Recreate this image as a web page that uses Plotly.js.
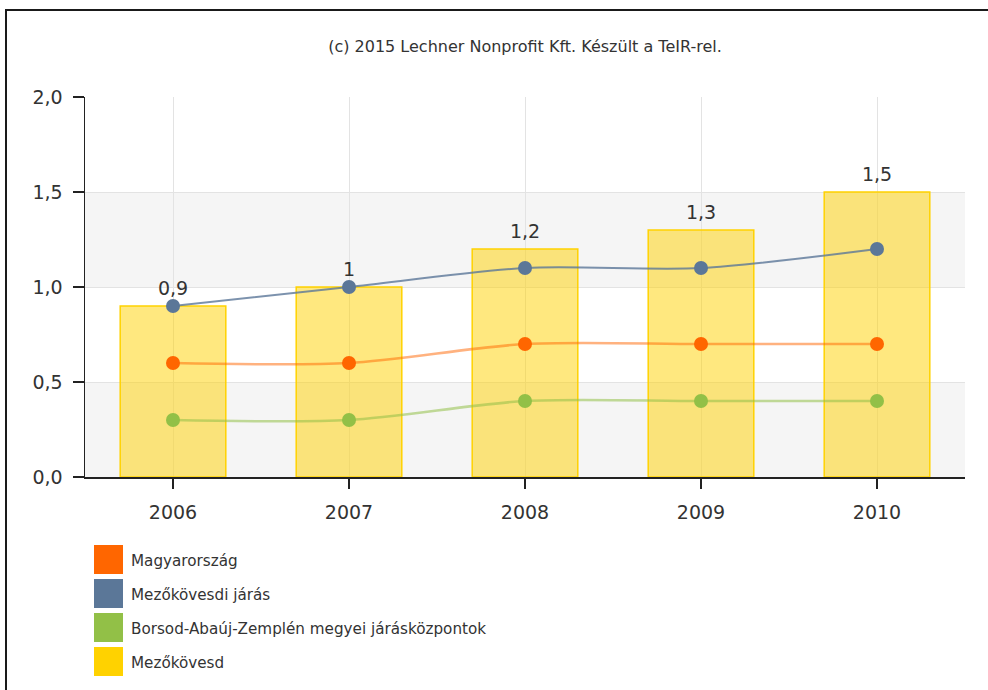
<!DOCTYPE html>
<html>
<head>
<meta charset="utf-8">
<script src="https://cdn.plot.ly/plotly-3.0.1.min.js"></script>
<style>
  html, body { margin: 0; padding: 0; background: #fff; }
  #wrap { position: relative; width: 988px; height: 690px; overflow: hidden; }
  #chart { position: absolute; left: 0; top: 0; width: 988px; height: 690px; }
  #frame { position: absolute; left: 5px; top: 9px; width: 990px; height: 700px;
           border-top: 2px solid #1a1a1a; border-left: 2px solid #1a1a1a; pointer-events: none; }
</style>
</head>
<body>
<div id="wrap">
  <div id="chart"></div>
  <div id="frame"></div>
</div>
<script>
// ---- data ----
const years = ['2006', '2007', '2008', '2009', '2010'];
const mezokovesd = [0.9, 1.0, 1.2, 1.3, 1.5];           // bars
const magyarorszag = [0.6, 0.6, 0.7, 0.7, 0.7];
const mezokovesdiJaras = [0.9, 1.0, 1.1, 1.1, 1.2];
const borsod = [0.3, 0.3, 0.4, 0.4, 0.4];
const seriesNames = ['Magyarország', 'Mezőkövesdi járás', 'Borsod-Abaúj-Zemplén megyei járásközpontok', 'Mezőkövesd'];
const seriesColors = ['#ff6600', '#5b7798', '#92c047', '#ffd200'];
const titleText = '(c) 2015 Lechner Nonprofit Kft. Készült a TeIR-rel.';
const yTickVals = [0, 0.5, 1.0, 1.5, 2.0];

const W = 988, H = 690;
const M = { l: 85, r: 23, t: 97, b: 213 };
const PW = W - M.l - M.r, PH = H - M.t - M.b;
const px2x = p => (p - M.l) / PW;
const px2y = p => 1 - (p - M.t) / PH;

const fmt = v => String(v).replace('.', ',');
const font = 'DejaVu Sans, Verdana, sans-serif';

const traces = [
  {
    type: 'bar', x: years, y: mezokovesd, name: seriesNames[3],
    width: 0.6,
    marker: { color: 'rgba(255,210,0,0.5)', line: { color: '#ffd200', width: 1.5 } },
    showlegend: false
  },
  {
    // value labels above the bars
    type: 'scatter', mode: 'markers+text', x: years, y: mezokovesd, name: seriesNames[3] + ' labels',
    marker: { size: 8, opacity: 0 },
    text: mezokovesd.map(fmt), textposition: 'top center', cliponaxis: false,
    textfont: { family: font, size: 19, color: '#333' }, showlegend: false
  },
  {
    type: 'scatter', mode: 'lines+markers', x: years, y: magyarorszag, name: seriesNames[0],
    line: { color: 'rgba(255,102,0,0.5)', width: 2.5, shape: 'spline', smoothing: 0.8 },
    marker: { color: seriesColors[0], size: 14 }, showlegend: false
  },
  {
    type: 'scatter', mode: 'lines+markers', x: years, y: mezokovesdiJaras, name: seriesNames[1],
    line: { color: 'rgba(91,119,152,0.8)', width: 2, shape: 'spline', smoothing: 0.8 },
    marker: { color: seriesColors[1], size: 14 }, showlegend: false
  },
  {
    type: 'scatter', mode: 'lines+markers', x: years, y: borsod, name: seriesNames[2],
    line: { color: 'rgba(146,192,71,0.55)', width: 2.5, shape: 'spline', smoothing: 0.8 },
    marker: { color: seriesColors[2], size: 14 }, showlegend: false
  }
];

const shapes = [
  { type: 'rect', xref: 'paper', yref: 'y', x0: 0, x1: 1, y0: 0, y1: 0.5, fillcolor: '#f5f5f5', line: { width: 0 }, layer: 'below' },
  { type: 'rect', xref: 'paper', yref: 'y', x0: 0, x1: 1, y0: 1.0, y1: 1.5, fillcolor: '#f5f5f5', line: { width: 0 }, layer: 'below' }
];
const annotations = [];
const legTop = 545, legStep = 34, sq = 29;
seriesNames.forEach((n, i) => {
  const t = legTop + i * legStep;
  shapes.push({ type: 'rect', xref: 'paper', yref: 'paper',
    x0: px2x(94), x1: px2x(94 + sq), y0: px2y(t), y1: px2y(t + sq),
    fillcolor: seriesColors[i], line: { width: 0 } });
  annotations.push({ xref: 'paper', yref: 'paper', x: px2x(129), y: px2y(t + sq / 2 + 1),
    xanchor: 'left', yanchor: 'middle', showarrow: false, text: n,
    font: { family: font, size: 15.2, color: '#333' } });
});

const layout = {
  width: W, height: H, margin: M,
  paper_bgcolor: '#fff', plot_bgcolor: 'rgba(0,0,0,0)',
  separators: ', ',
  showlegend: false, hovermode: false,
  title: { text: titleText, x: 0.5, xref: 'paper', y: 1 - 46 / H, yref: 'container', yanchor: 'middle',
    font: { family: font, size: 16, color: '#333' } },
  xaxis: {
    type: 'category', range: [-0.5, 4.5], showline: true, linecolor: '#222', linewidth: 1.5,
    ticks: 'outside', ticklen: 10, tickcolor: '#222', tickwidth: 1.5,
    showgrid: true, gridcolor: '#e3e3e3', gridwidth: 1,
    tickfont: { family: font, size: 19, color: '#333' }, ticklabelstandoff: 8
  },
  yaxis: {
    range: [0, 2.0], tickvals: yTickVals, tickformat: '.1f', showline: true, linecolor: '#222', linewidth: 1.5,
    ticks: 'outside', ticklen: 11, tickcolor: '#222', tickwidth: 1.5,
    showgrid: true, gridcolor: '#e3e3e3', gridwidth: 1, zeroline: false,
    tickfont: { family: font, size: 19, color: '#333' }, ticklabelstandoff: 6
  },
  shapes: shapes, annotations: annotations
};

Plotly.newPlot('chart', traces, layout, { staticPlot: true, displayModeBar: false });
</script>
</body>
</html>
